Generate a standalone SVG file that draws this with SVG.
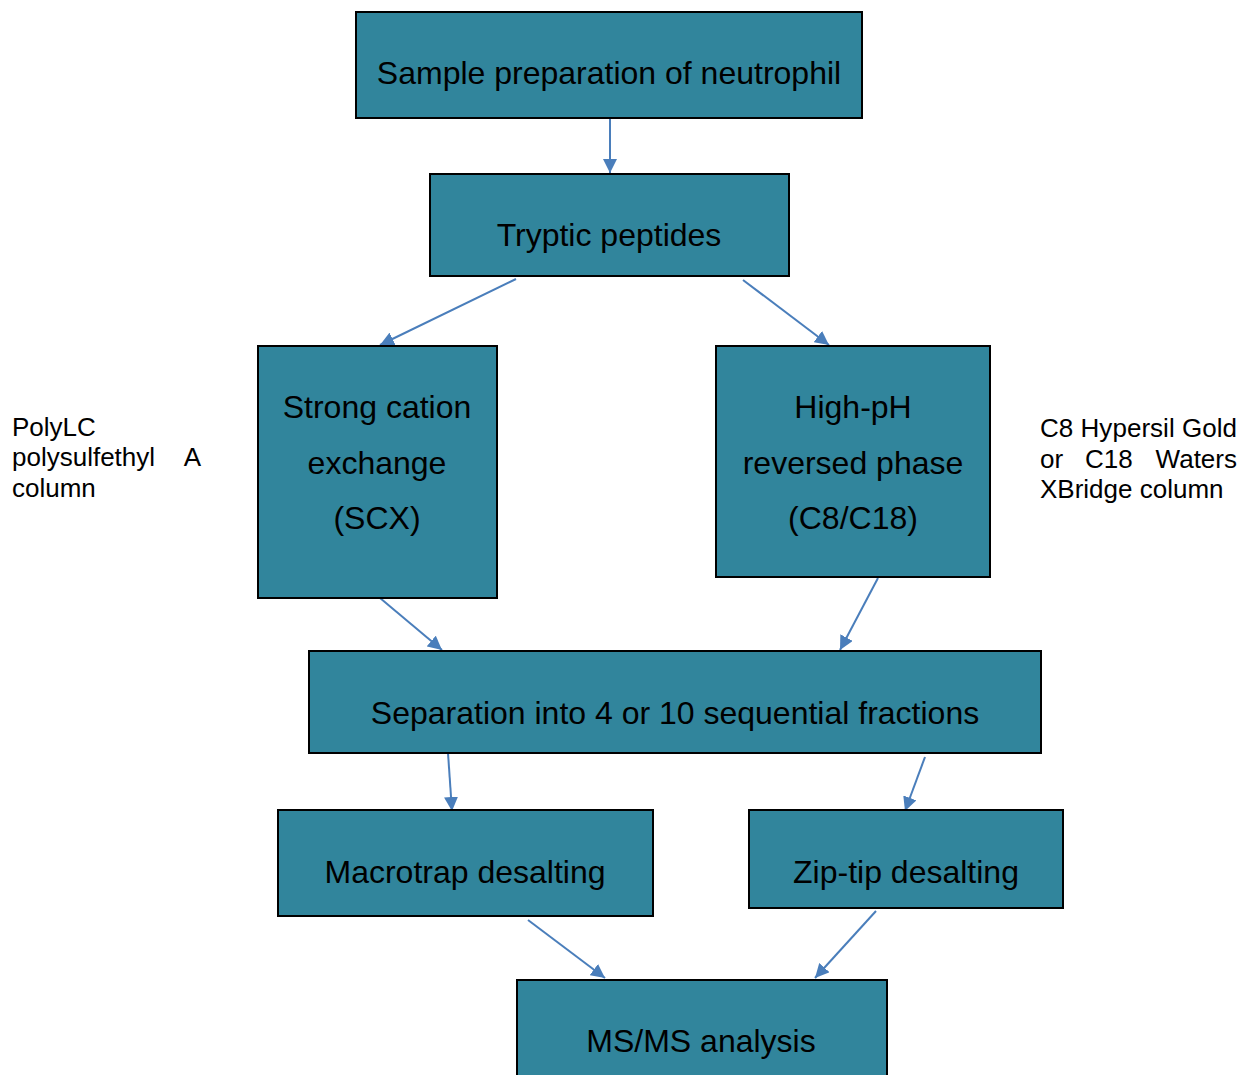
<svg xmlns="http://www.w3.org/2000/svg" width="1252" height="1075" viewBox="0 0 1252 1075">
<style>
.box{fill:#31859C;stroke:#000;stroke-width:2}
.t{font-family:"Liberation Sans",Arial,sans-serif;font-size:32px;fill:#000;text-anchor:middle}
.s{font-family:"Liberation Sans",Arial,sans-serif;font-size:26px;fill:#000}
.c{stroke:#4A7EBB;stroke-width:2;fill:none;marker-end:url(#ah)}
</style>
<defs>
<marker id="ah" viewBox="0 0 10 10" refX="10" refY="5" markerWidth="14" markerHeight="14" markerUnits="userSpaceOnUse" orient="auto">
<path d="M0,0 L10,5 L0,10 z" fill="#4A7EBB"/>
</marker>
</defs>
<rect width="1252" height="1075" fill="#fff"/>
<g id="connectors">
<line class="c" x1="610" y1="118" x2="610" y2="173"/>
<line class="c" x1="516" y1="279" x2="380" y2="345"/>
<line class="c" x1="743" y1="280" x2="829" y2="345"/>
<line class="c" x1="380" y1="598" x2="442" y2="650"/>
<line class="c" x1="878" y1="578" x2="840" y2="650"/>
<line class="c" x1="448" y1="753" x2="452" y2="811"/>
<line class="c" x1="925" y1="757" x2="905" y2="811"/>
<line class="c" x1="528" y1="920" x2="605" y2="978"/>
<line class="c" x1="876" y1="911" x2="815" y2="978"/>
</g>
<g id="n1"><rect class="box" x="356" y="12" width="506" height="106"/><text class="t" x="609" y="84">Sample preparation of neutrophil</text></g>
<g id="n2"><rect class="box" x="430" y="174" width="359" height="102"/><text class="t" x="609" y="246">Tryptic peptides</text></g>
<g id="n3"><rect class="box" x="258" y="346" width="239" height="252"/><text class="t" x="377" y="418">Strong cation</text><text class="t" x="377" y="474">exchange</text><text class="t" x="377" y="529">(SCX)</text></g>
<g id="n4"><rect class="box" x="716" y="346" width="274" height="231"/><text class="t" x="853" y="418">High-pH</text><text class="t" x="853" y="474">reversed phase</text><text class="t" x="853" y="529">(C8/C18)</text></g>
<g id="n5"><rect class="box" x="309" y="651" width="732" height="102"/><text class="t" x="675" y="724">Separation into 4 or 10 sequential fractions</text></g>
<g id="n6"><rect class="box" x="278" y="810" width="375" height="106"/><text class="t" x="465" y="883">Macrotrap desalting</text></g>
<g id="n7"><rect class="box" x="749" y="810" width="314" height="98"/><text class="t" x="906" y="883">Zip-tip desalting</text></g>
<g id="n8"><rect class="box" x="517" y="980" width="370" height="100"/><text class="t" x="701" y="1052">MS/MS analysis</text></g>
<g id="label-left">
<text class="s" x="12" y="436">PolyLC</text>
<text class="s" x="12" y="466">polysulfethyl</text>
<text class="s" x="201" y="466" text-anchor="end">A</text>
<text class="s" x="12" y="497">column</text>
</g>
<g id="label-right">
<text class="s" x="1040" y="437" textLength="197">C8 Hypersil Gold</text>
<text class="s" x="1040" y="468">or</text>
<text class="s" x="1085" y="468">C18</text>
<text class="s" x="1237" y="468" text-anchor="end">Waters</text>
<text class="s" x="1040" y="498">XBridge column</text>
</g>
</svg>
